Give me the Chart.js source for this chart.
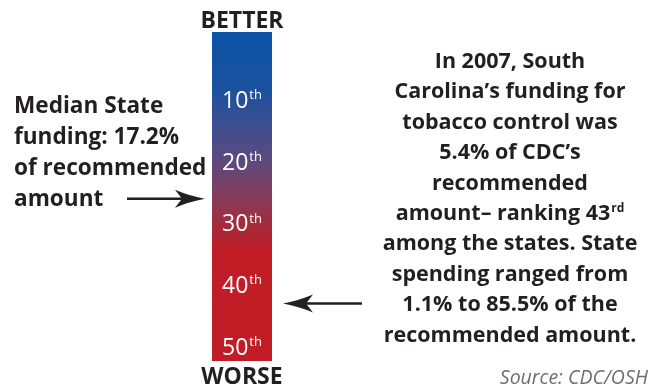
<!DOCTYPE html>
<html>
<head>
<meta charset="utf-8">
<script src="https://cdn.jsdelivr.net/npm/chart.js@4.4.1/dist/chart.umd.min.js"></script>
<style>
  html, body { margin: 0; padding: 0; background: #fff; }
  #wrap { width: 663px; height: 390px; }
</style>
</head>
<body>
<div id="wrap"><canvas id="rankChart" width="663" height="390"></canvas></div>
<script>
// ranks shown inside the bar, 1st = best at the top
const rankTicks = [10, 20, 30, 40, 50];
const rankSuffix = ['th', 'th', 'th', 'th', 'th'];
const barSpan = [-1, 52.3];
const medianRank = 26;
const stateRank = 43;
const topLabel = 'BETTER';
const bottomLabel = 'WORSE';
const leftNote = ['Median State', 'funding: 17.2%', 'of recommended', 'amount'];
// '^' marks a superscript tail
const rightNote = [
  'In 2007, South',
  'Carolina\u2019s funding for',
  'tobacco control was',
  '5.4% of CDC\u2019s',
  'recommended',
  'amount\u2013 ranking 43^rd',
  'among the states. State',
  'spending ranged from',
  '1.1% to 85.5% of the',
  'recommended amount.',
];
const sourceNote = 'Source: CDC/OSH';

const INK = '#231f20';
const FONT = '"Open Sans", "DejaVu Sans", sans-serif';
const GRADIENT_STOPS = [
  [0.00, '#0a53a5'],
  [0.18, '#1b519f'],
  [0.27, '#3a4f93'],
  [0.39, '#5a4a7e'],
  [0.50, '#843b5a'],
  [0.59, '#a62b3a'],
  [0.67, '#c01d26'],
  [1.00, '#c01d26'],
];

function drawRich(ctx, text, x, y, align, size, weight, color) {
  const [main, sup] = text.split('^');
  const supSize = Math.round(size * 0.58);
  ctx.font = `${weight} ${size}px ${FONT}`;
  const w1 = ctx.measureText(main).width;
  let w2 = 0;
  if (sup) {
    ctx.font = `${weight} ${supSize}px ${FONT}`;
    w2 = ctx.measureText(sup).width + 1;
  }
  let x0 = x;
  if (align === 'center') x0 = x - (w1 + w2) / 2;
  else if (align === 'right') x0 = x - (w1 + w2);
  ctx.fillStyle = color;
  ctx.textAlign = 'left';
  ctx.textBaseline = 'alphabetic';
  ctx.font = `${weight} ${size}px ${FONT}`;
  ctx.fillText(main, x0, y);
  if (sup) {
    ctx.font = `${weight} ${supSize}px ${FONT}`;
    ctx.fillText(sup, x0 + w1 + 1, y - size * 0.38);
  }
}

function drawArrow(ctx, tailX, tipX, y) {
  const dir = tipX > tailX ? 1 : -1;
  ctx.save();
  ctx.strokeStyle = INK;
  ctx.fillStyle = INK;
  ctx.lineWidth = 2.5;
  ctx.beginPath();
  ctx.moveTo(tailX, y);
  ctx.lineTo(tipX - dir * 20, y);
  ctx.stroke();
  // barbed head with slightly concave edges
  ctx.beginPath();
  ctx.moveTo(tipX, y);
  ctx.quadraticCurveTo(tipX - dir * 16, y - 3, tipX - dir * 30, y - 9);
  ctx.lineTo(tipX - dir * 23, y);
  ctx.lineTo(tipX - dir * 30, y + 9);
  ctx.quadraticCurveTo(tipX - dir * 16, y + 3, tipX, y);
  ctx.closePath();
  ctx.fill();
  ctx.restore();
}

const annotations = {
  id: 'annotations',
  afterDatasetsDraw(chart) {
    const { ctx, chartArea, scales } = chart;
    const y = scales.y;
    const cx = (chartArea.left + chartArea.right) / 2;

    // rank labels inside the bar
    rankTicks.forEach((r, i) => {
      drawRich(ctx, r + '^' + rankSuffix[i], chartArea.left + 10, y.getPixelForValue(r) + 8, 'left', 23, 'normal', '#ffffff');
    });

    // BETTER / WORSE
    ctx.font = `bold 23px ${FONT}`;
    ctx.textAlign = 'center';
    ctx.fillStyle = INK;
    ctx.fillText(topLabel, cx, chartArea.top - 4);
    ctx.fillText(bottomLabel, cx, chartArea.bottom + 23);

    // left note + arrow to the median
    leftNote.forEach((line, i) => {
      drawRich(ctx, line, 14, 113 + i * 31, 'left', 22.6, 'bold', INK);
    });
    const yMed = y.getPixelForValue(medianRank);
    drawArrow(ctx, 127, chartArea.left - 7, yMed);

    // right note + arrow to South Carolina
    rightNote.forEach((line, i) => {
      drawRich(ctx, line, 510, 68 + i * 30.4, 'center', 21.5, 'bold', INK);
    });
    const ySC = y.getPixelForValue(stateRank);
    drawArrow(ctx, 362, chartArea.right + 11, ySC);

    // source
    ctx.font = `italic 19.5px ${FONT}`;
    ctx.textAlign = 'right';
    ctx.fillStyle = '#6d6e71';
    ctx.fillText(sourceNote, 648, 384);
  },
};

new Chart(document.getElementById('rankChart'), {
  type: 'bar',
  data: {
    labels: ['rank'],
    datasets: [{
      data: [barSpan],
      borderWidth: 0,
      borderSkipped: false,
      barPercentage: 1,
      categoryPercentage: 1,
      backgroundColor(context) {
        const area = context.chart.chartArea;
        if (!area) return GRADIENT_STOPS[0][1];
        const g = context.chart.ctx.createLinearGradient(0, area.top, 0, area.bottom);
        GRADIENT_STOPS.forEach(([p, c]) => g.addColorStop(p, c));
        return g;
      },
    }],
  },
  options: {
    responsive: false,
    animation: false,
    layout: { padding: { left: 212, right: 391, top: 32, bottom: 29 } },
    scales: {
      x: { display: false },
      y: { display: false, reverse: true, min: barSpan[0], max: barSpan[1] },
    },
    plugins: { legend: { display: false }, tooltip: { enabled: false } },
  },
  plugins: [annotations],
});
</script>
</body>
</html>
